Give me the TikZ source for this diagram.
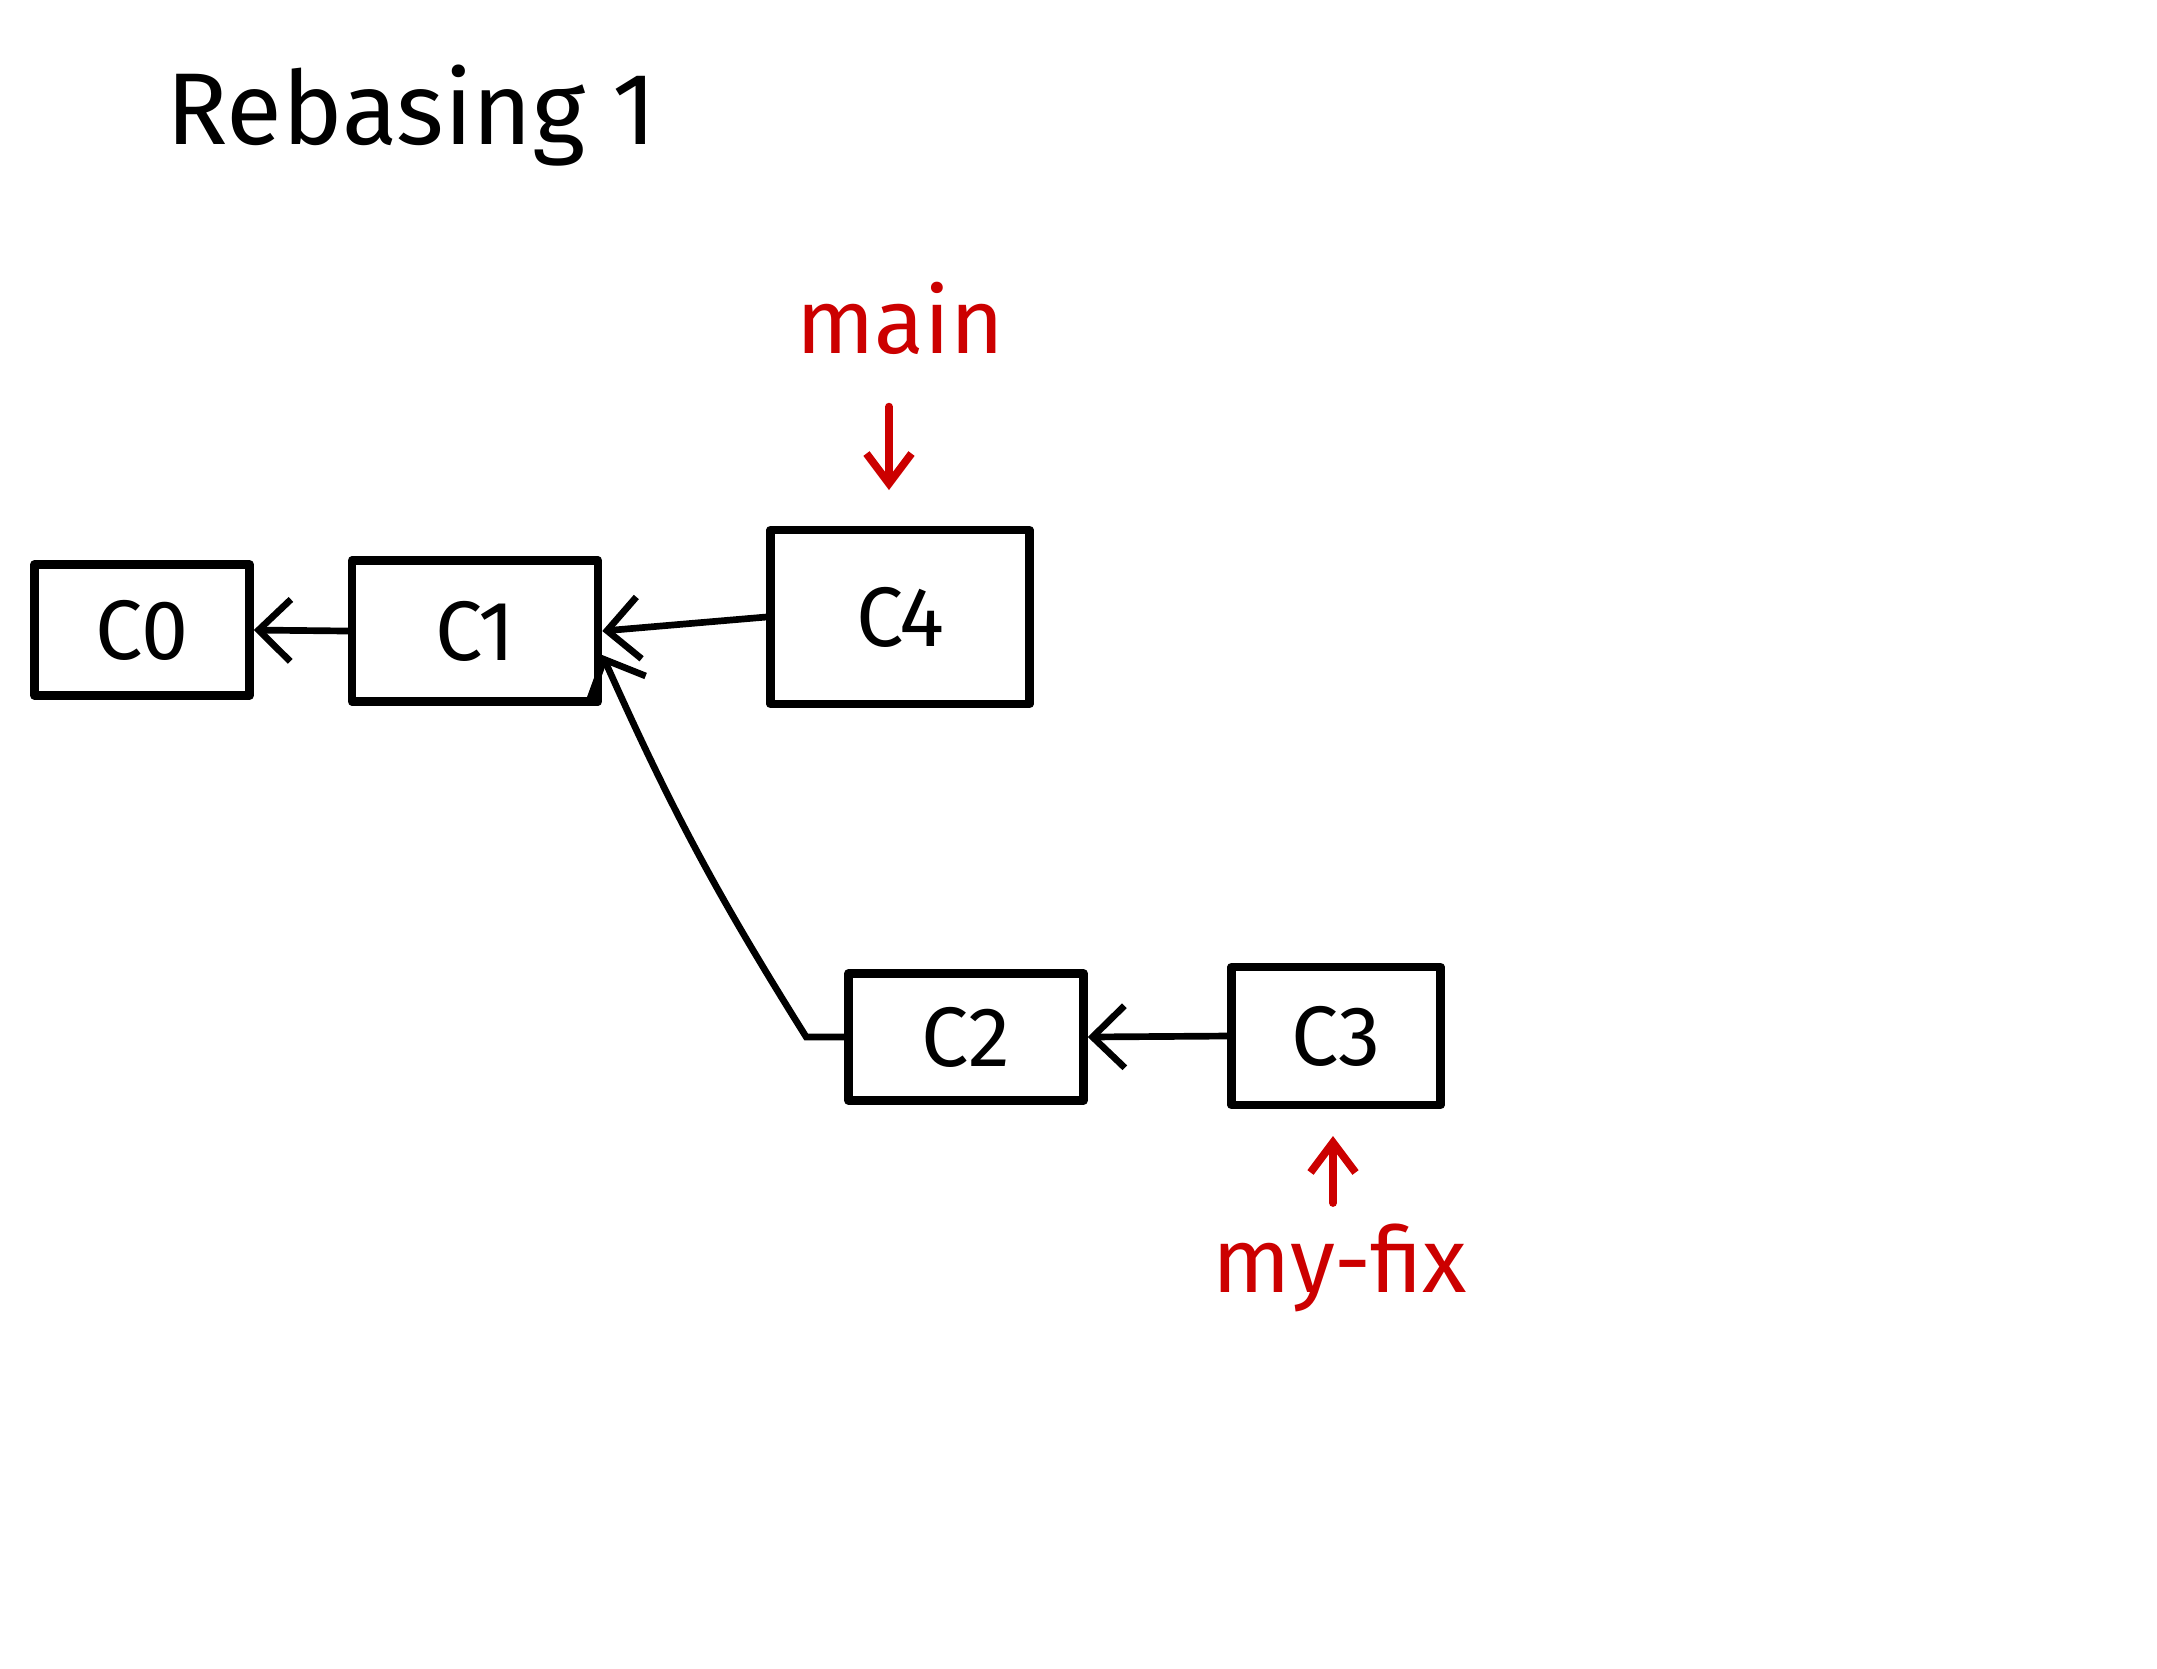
\documentclass[tikz,border=0pt]{standalone}
\usepackage{fontspec}
\setmainfont{Fira Sans}
\usetikzlibrary{arrows.meta,calc}
\definecolor{inkred}{RGB}{204,0,0}
\begin{document}
\begin{tikzpicture}[x=0.01cm,y=-0.01cm,
  commit/.style={draw,line width=2.4pt,line join=round,inner sep=0pt,font=\fontsize{24}{28}\selectfont},
  link/.style={line width=1.9pt,line cap=round,-{Straight Barb[length=0.32cm,width=0.62cm,line width=1.9pt]}},
  ref/.style={inkred,font=\fontsize{26}{30}\selectfont},
  refarrow/.style={inkred,line width=2.2pt,line cap=round,-{Straight Barb[length=0.3cm,width=0.45cm,line width=2.2pt]}}]
  \fill[white] (0,0) rectangle (2157,1668);
  \useasboundingbox (0,0) rectangle (2157,1668);

  % title
  \node[anchor=base west,inner sep=0pt,font=\fontsize{29}{34}\selectfont] (title) at (166,144) {Rebasing 1};

  % commits
  \node[commit,minimum width=2.15cm,minimum height=1.31cm] (C0) at (142,630) {C0};
  \node[commit,minimum width=2.46cm,minimum height=1.41cm] (C1) at (475,631) {C1};
  \node[commit,minimum width=2.59cm,minimum height=1.74cm] (C4) at (900,617) {C4};
  \node[commit,minimum width=2.35cm,minimum height=1.27cm] (C2) at (966,1037) {C2};
  \node[commit,minimum width=2.09cm,minimum height=1.38cm] (C3) at (1336,1036) {C3};

  % parent links
  \draw[link] (C1.west) -- (C0.east);
  \draw[link] (C4.west) -- (C1.east);
  \coordinate (C1in) at ($(C1.east)+(0,24)$);
  \draw[link] (C2.west) -- ++(-38,0) to[bend left=4] (C1in);
  \draw[link] (C3.west) -- (C2.east);

  % branch refs
  \node[ref] (main) at (900,318) {main};
  \coordinate (mainTip) at (889,490);
  \draw[refarrow] (main.south -| mainTip) ++(0,40) -- (mainTip);

  \node[ref] (myfix) at (1340,1268) {my-fix};
  \coordinate (fixTip) at (1333,1136);
  \draw[refarrow] (1333,1203) -- (fixTip);
\end{tikzpicture}
\end{document}
